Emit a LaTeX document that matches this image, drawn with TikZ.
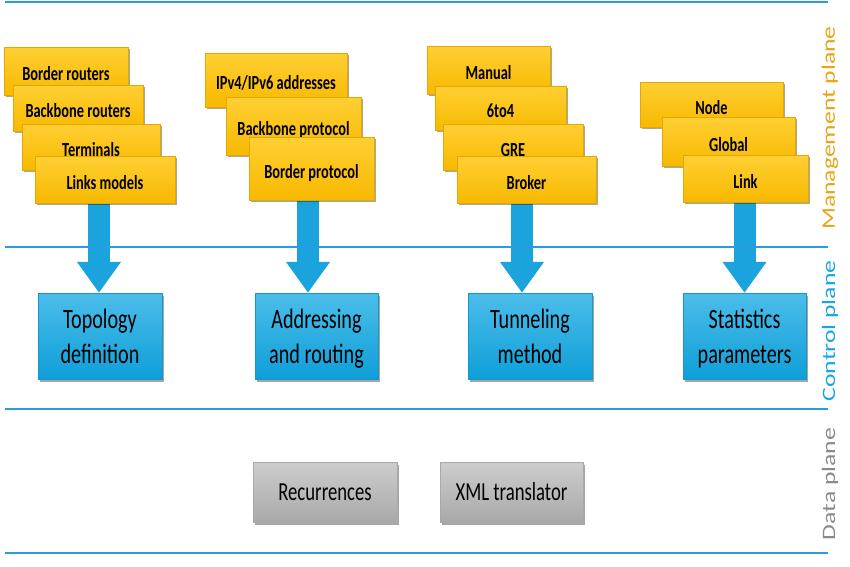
\documentclass[tikz,border=0pt]{standalone}
\usepackage{fontspec}
\setmainfont{Carlito}
\newfontfamily\condfont[FakeStretch=0.72]{Carlito}
\newfontfamily\widefont[FakeStretch=1.35]{Carlito}
\usetikzlibrary{shadows,backgrounds,arrows.meta}
\definecolor{yTop}{HTML}{FFCF33}
\definecolor{yBot}{HTML}{F7B900}
\definecolor{yEdge}{HTML}{E5A800}
\definecolor{bTop}{HTML}{4CBDEA}
\definecolor{bBot}{HTML}{0E9FD8}
\definecolor{bEdge}{HTML}{1596CC}
\definecolor{gTop}{HTML}{CDCDCD}
\definecolor{gBot}{HTML}{A9A9A9}
\definecolor{arrowBlue}{HTML}{1AA3DC}
\definecolor{lineBlue}{HTML}{2A9BE0}
\definecolor{mgmtCol}{HTML}{E8A514}
\definecolor{ctrlCol}{HTML}{1BA6E2}
\definecolor{dataCol}{HTML}{8A8A8A}
\tikzset{
  ybox/.style={rectangle, inner sep=0pt, top color=yTop, bottom color=yBot, draw=yEdge, line width=0.4pt,
    drop shadow={shadow xshift=1.5pt, shadow yshift=-2pt, opacity=0.35, fill=black},
    font=\condfont\bfseries\fontsize{20}{24}\selectfont, text height=19pt, text depth=0pt},
  bbox/.style={rectangle, inner sep=0pt, top color=bTop, bottom color=bBot, draw=bEdge, line width=0.4pt,
    drop shadow={shadow xshift=2pt, shadow yshift=-2.5pt, opacity=0.35, fill=black},
    align=center, font=\condfont\fontsize{28}{35}\selectfont, text depth=0pt,
    minimum width=124pt, minimum height=86pt},
  gbox/.style={rectangle, inner sep=0pt, top color=gTop, bottom color=gBot, draw=gBot, line width=0.4pt,
    drop shadow={shadow xshift=2pt, shadow yshift=-2.5pt, opacity=0.35, fill=black},
    font=\condfont\fontsize{26}{30}\selectfont, minimum width=144pt, minimum height=60pt},
  bigarrow/.style={draw=arrowBlue, line width=22pt, -{Triangle[width=42pt,length=31pt]}},
  planeline/.style={draw=lineBlue, line width=2pt},
  sidelabel/.style={rotate=90, inner sep=0pt, font=\widefont\fontsize{19}{22}\selectfont}
}
\begin{document}
\begin{tikzpicture}[x=1pt, y=-1pt]
\useasboundingbox (0,0) rectangle (850,566);
% plane lines
\coordinate (l0a) at (5,2);   \coordinate (l0b) at (828,2);
\coordinate (l1a) at (5,247); \coordinate (l1b) at (828,247);
\coordinate (l2a) at (5,409); \coordinate (l2b) at (828,409);
\coordinate (l3a) at (5,553); \coordinate (l3b) at (828,553);
\draw[planeline] (l0a) -- (l0b);
\draw[planeline] (l1a) -- (l1b);
\draw[planeline] (l2a) -- (l2b);
\draw[planeline] (l3a) -- (l3b);
% side labels
\node[sidelabel, text=mgmtCol] (mgmt) at (830,128) {Management plane};
\node[sidelabel, text=ctrlCol] (ctrl) at (830,331) {Control plane};
\node[sidelabel, text=dataCol] (data) at (830,484) {Data plane};
% stack 1
\node[ybox, minimum width=124pt, minimum height=48pt] (s1a) at (66,71) {Border routers};
\node[ybox, minimum width=130pt, minimum height=46pt] (s1b) at (78,108) {Backbone routers};
\node[ybox, minimum width=138pt, minimum height=46pt] (s1c) at (91,147) {Terminals};
\node[ybox, minimum width=140pt, minimum height=47pt] (s1d) at (105,179.5) {Links models};
% stack 2
\node[ybox, minimum width=142pt, minimum height=54pt] (s2a) at (276,80) {IPv4/IPv6 addresses};
\node[ybox, minimum width=135pt, minimum height=58pt] (s2b) at (293.5,126) {Backbone protocol};
\node[ybox, minimum width=125pt, minimum height=63pt] (s2c) at (311.5,168.5) {Border protocol};
% stack 3
\node[ybox, minimum width=123pt, minimum height=48pt] (s3a) at (488.5,70) {Manual};
\node[ybox, minimum width=131pt, minimum height=44pt] (s3b) at (500.5,108) {6to4};
\node[ybox, minimum width=140pt, minimum height=46pt] (s3c) at (513,147) {GRE};
\node[ybox, minimum width=139pt, minimum height=47pt] (s3d) at (526.5,179.5) {Broker};
% stack 4
\node[ybox, minimum width=143pt, minimum height=45pt] (s4a) at (711.5,104.5) {Node};
\node[ybox, minimum width=133pt, minimum height=49pt] (s4b) at (728.5,141.5) {Global};
\node[ybox, minimum width=125pt, minimum height=47pt] (s4c) at (745.5,178.5) {Link};
% control plane boxes
\node[bbox] (b1) at (100,336) {Topology\\definition};
\node[bbox, minimum width=123pt] (b2) at (316.5,336) {Addressing\\and routing};
\node[bbox] (b3) at (530,336) {Tunneling\\method};
\node[bbox, minimum width=123pt] (b4) at (744.5,336) {Statistics\\parameters};
% data plane boxes
\node[gbox] (g1) at (325,492) {Recurrences};
\node[gbox, minimum width=143pt] (g2) at (511.5,492) {XML translator};
% arrows
\begin{scope}[on background layer]
\draw[bigarrow] ([xshift=-1pt]b1.north |- s1d.center) -- ([xshift=-1pt]b1.north);
\draw[bigarrow] ([xshift=-8.5pt]b2.north |- s2c.center) -- ([xshift=-8.5pt]b2.north);
\draw[bigarrow] ([xshift=-8pt]b3.north |- s3d.center) -- ([xshift=-8pt]b3.north);
\draw[bigarrow] (b4.north |- s4c.center) -- (b4.north);
\end{scope}
\end{tikzpicture}
\end{document}
